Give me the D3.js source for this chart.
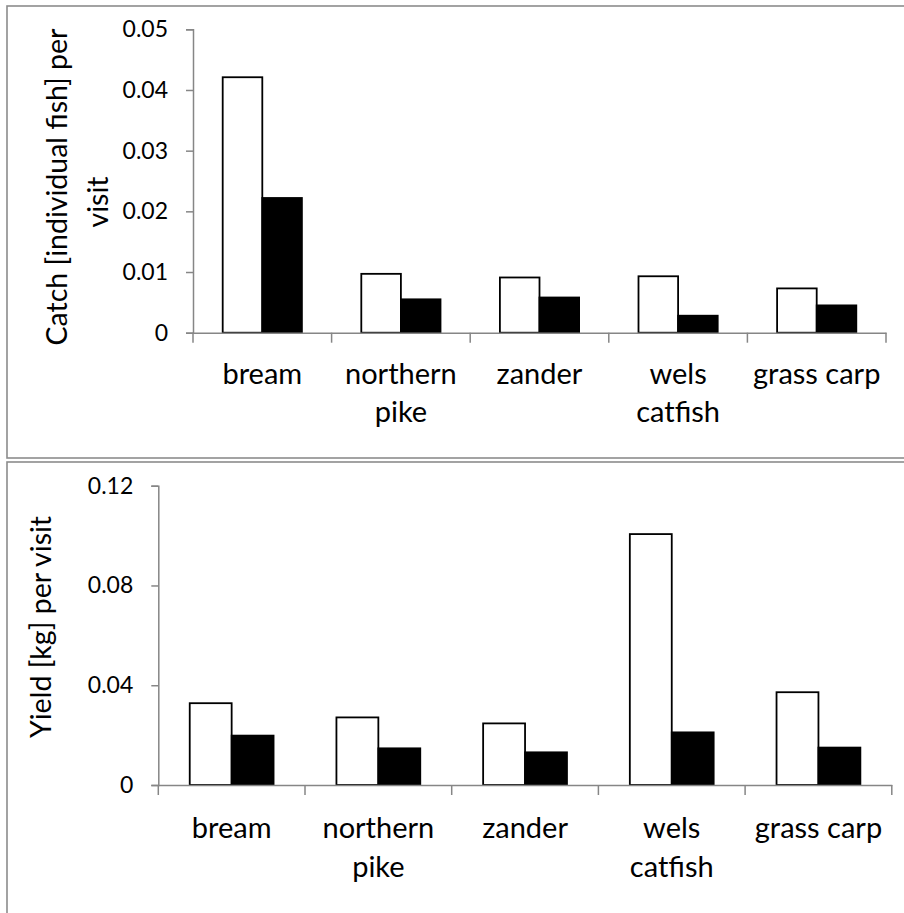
<!DOCTYPE html>
<html>
<head>
<meta charset="utf-8">
<script src="https://cdn.jsdelivr.net/npm/d3@7"></script>
<style>
  html, body { margin: 0; padding: 0; background: #fff; }
  svg { display: block; }
  text { font-family: Lato, "Open Sans", sans-serif; fill: #000; }
</style>
</head>
<body>
<svg id="chart" width="904" height="913"></svg>
<script>
// Species and their axis labels (multi-line)
const categories = ["bream", "northern pike", "zander", "wels catfish", "grass carp"];
const categoryLines = [["bream"], ["northern", "pike"], ["zander"], ["wels", "catfish"], ["grass carp"]];
const series = ["open", "filled"];

// Catch [individual fish] per visit
const catchOpen   = [0.0421, 0.0097, 0.0091, 0.0093, 0.0073];
const catchFilled = [0.0222, 0.0055, 0.0058, 0.0028, 0.0045];

// Yield [kg] per visit
const yieldOpen   = [0.0328, 0.0271, 0.0247, 0.1006, 0.0372];
const yieldFilled = [0.0198, 0.0147, 0.0131, 0.0211, 0.0150];

const catchTicks = [0, 0.01, 0.02, 0.03, 0.04, 0.05];
const catchTickLabels = ["0", "0.01", "0.02", "0.03", "0.04", "0.05"];
const yieldTicks = [0, 0.04, 0.08, 0.12];
const yieldTickLabels = ["0", "0.04", "0.08", "0.12"];

const svg = d3.select("#chart");
const axisColor = "#868686";
const frameColor = "#8c8c8c";

function panel(cfg) {
  const g = svg.append("g");

  // panel frame
  g.append("rect")
    .attr("x", cfg.frame[0]).attr("y", cfg.frame[1])
    .attr("width", cfg.frame[2]).attr("height", cfg.frame[3])
    .attr("fill", "#fff").attr("stroke", frameColor).attr("stroke-width", 1.6);

  const x = d3.scaleBand().domain(categories).range([cfg.left, cfg.right]).padding(0);
  const xs = d3.scaleBand().domain(series).range([0, x.bandwidth()])
    .paddingInner(0).paddingOuter(0.75);
  const y = d3.scaleLinear().domain([0, cfg.max]).range([cfg.bottom, cfg.top]);

  const rows = categories.map((c, i) => ({ c, open: cfg.open[i], filled: cfg.filled[i] }));

  // bars
  const grp = g.append("g").selectAll("g").data(rows).join("g")
    .attr("transform", d => `translate(${x(d.c)},0)`);
  grp.selectAll("rect").data(d => series.map(s => ({ s, v: d[s] }))).join("rect")
    .attr("x", d => xs(d.s))
    .attr("width", xs.bandwidth())
    .attr("y", d => y(d.v))
    .attr("height", d => y(0) - y(d.v))
    .attr("fill", d => d.s === "open" ? "#fff" : "#000")
    .attr("stroke", "#000").attr("stroke-width", 1.8);

  // y axis
  const ya = g.append("g").attr("transform", `translate(${cfg.left},0)`)
    .call(d3.axisLeft(y).tickValues(cfg.ticks).tickSize(7).tickPadding(cfg.tickPad)
      .tickFormat((d, i) => cfg.tickLabels[i]));
  ya.select(".domain").attr("stroke", axisColor).attr("stroke-width", 1.5);
  ya.selectAll(".tick line").attr("stroke", axisColor).attr("stroke-width", 1.5);
  ya.selectAll(".tick text").style("font-family", "Lato, sans-serif")
    .style("font-size", "23px").attr("fill", "#000");

  // x axis: line with category boundary ticks
  const xa = g.append("g").attr("transform", `translate(0,${cfg.bottom})`)
    .call(d3.axisBottom(x).tickSize(0).tickFormat(""));
  xa.select(".domain").attr("stroke", axisColor).attr("stroke-width", 1.5);
  const bounds = categories.map(c => x(c)).concat([x.range()[1]]);
  xa.selectAll("line.bound").data(bounds).join("line").attr("class", "bound")
    .attr("x1", d => d).attr("x2", d => d).attr("y1", 0).attr("y2", 10)
    .attr("stroke", axisColor).attr("stroke-width", 1.5);

  // category labels
  const lab = g.append("g").selectAll("text").data(categories).join("text")
    .attr("text-anchor", "middle")
    .attr("transform", d => `translate(${x(d) + x.bandwidth() / 2},${cfg.bottom + cfg.labelDy})`)
    .style("font-size", "29px");
  lab.selectAll("tspan").data((d, i) => categoryLines[i]).join("tspan")
    .attr("x", 0).attr("y", (d, j) => j * cfg.lineGap).text(d => d);

  // y-axis title, one text per line
  cfg.title.forEach((line, j) => {
    g.append("text")
      .attr("text-anchor", "middle")
      .attr("transform", `translate(${cfg.titleX[j]},${cfg.titleY[j]}) rotate(-90)`)
      .style("font-size", "28.5px")
      .text(line);
  });
}

panel({
  frame: [7, 6, 1000, 452],
  left: 193, right: 886, top: 29.3, bottom: 332.7, max: 0.05,
  open: catchOpen, filled: catchFilled,
  ticks: catchTicks, tickLabels: catchTickLabels, tickPad: 18,
  labelDy: 51, lineGap: 38.5,
  title: ["Catch [individual fish] per", "visit"], titleX: [67, 108], titleY: [187, 202]
});

panel({
  frame: [7, 462, 1000, 600],
  left: 158.3, right: 891.8, top: 485.7, bottom: 785, max: 0.12,
  open: yieldOpen, filled: yieldFilled,
  ticks: yieldTicks, tickLabels: yieldTickLabels, tickPad: 18,
  labelDy: 53, lineGap: 38.5,
  title: ["Yield [kg] per visit"], titleX: [51], titleY: [627]
});
</script>
</body>
</html>
